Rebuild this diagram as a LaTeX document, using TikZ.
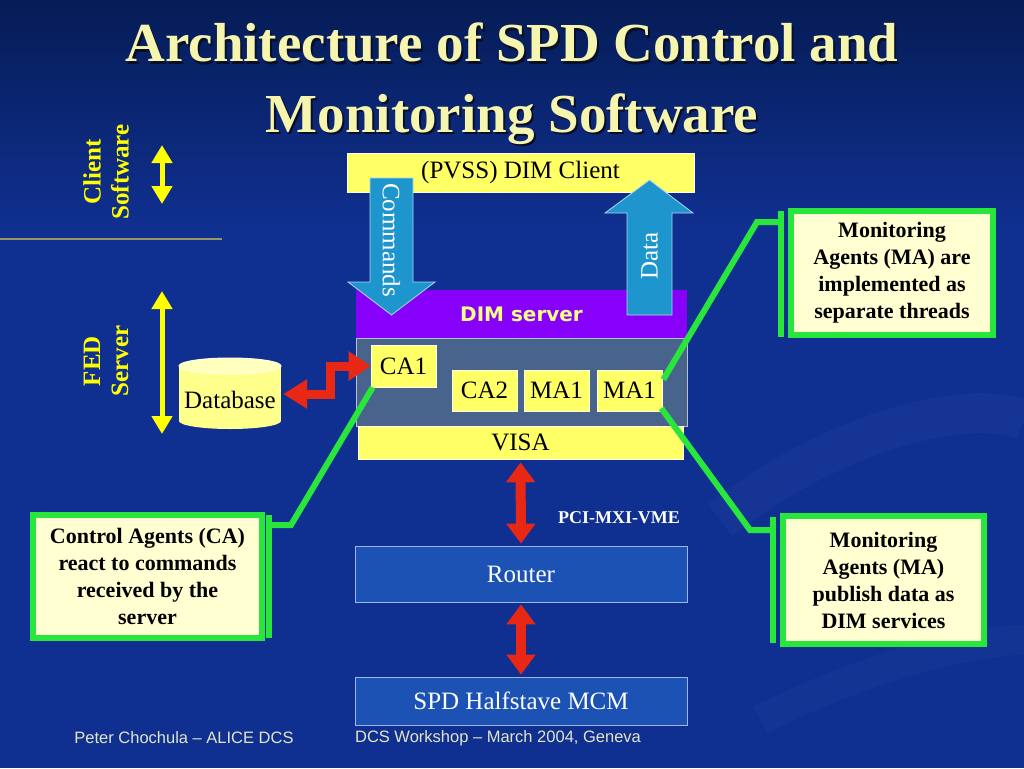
\documentclass[tikz,border=0pt]{standalone}
\usepackage{fontspec}
\setmainfont{Liberation Serif}
\newfontfamily\dimfont{DejaVu Sans}
\newfontfamily\footfont[Ligatures=TeX]{Liberation Sans}
\usetikzlibrary{arrows.meta,calc}
\definecolor{bgblue}{RGB}{16,48,145}
\definecolor{bgtop}{RGB}{6,28,86}
\definecolor{boxyellow}{RGB}{255,255,102}
\definecolor{dbyellow}{RGB}{255,255,140}
\definecolor{dbtop}{RGB}{255,255,190}
\definecolor{notefill}{RGB}{255,255,210}
\definecolor{notegreen}{RGB}{40,230,60}
\definecolor{arrowblue}{RGB}{30,150,205}
\definecolor{arrowrim}{RGB}{170,215,240}
\definecolor{dimpurple}{RGB}{135,0,250}
\definecolor{slate}{RGB}{72,100,140}
\definecolor{routerblue}{RGB}{28,82,180}
\definecolor{routerrim}{RGB}{160,180,230}
\definecolor{linkred}{RGB}{232,40,20}
\definecolor{titleyellow}{RGB}{245,245,175}
\definecolor{titleshade}{RGB}{10,15,40}
\definecolor{labelyellow}{RGB}{255,255,0}
\definecolor{rulecolor}{RGB}{150,150,100}
\definecolor{foottext}{RGB}{225,230,200}
\begin{document}
\begin{tikzpicture}[x=1pt,y=-1pt,
  ybox/.style={fill=boxyellow,draw=white!85!boxyellow,line width=0.6pt,inner sep=0pt,text=black,font=\fontsize{25}{28}\selectfont},
  bluebox/.style={fill=routerblue,draw=routerrim,line width=0.8pt,inner sep=0pt,text=white,font=\fontsize{25}{28}\selectfont},
  note/.style={fill=notefill,draw=notegreen,line width=6pt,inner sep=0pt,align=center,text=black,font=\fontsize{22}{27}\selectfont\bfseries},
  notebar/.style={draw=notegreen,line width=6pt},
  noteline/.style={draw=notegreen,line width=6pt,line join=miter},
  blockarrow/.style={fill=arrowblue,draw=arrowrim,line width=0.8pt},
  yarrow/.style={draw=labelyellow,line width=5pt,{Triangle[width=20pt,length=18pt]}-{Triangle[width=20pt,length=18pt]}},
  rarrow/.style={draw=linkred,line width=10pt,{Triangle[width=28pt,length=20pt]}-{Triangle[width=28pt,length=20pt]}},
  sidelabel/.style={rotate=90,align=center,text=labelyellow,font=\fontsize{25}{28}\selectfont\bfseries},
  titletext/.style={anchor=base,inner sep=0pt,font=\fontsize{55}{66}\selectfont\bfseries}
]
% background
\useasboundingbox (0,0) rectangle (1024,768);
\fill[bgblue] (0,0) rectangle (1024,768);
\shade[top color=bgtop,bottom color=bgblue] (0,0) rectangle (1024,230);
\draw[white,opacity=0.025,line width=40pt] (720,520) .. controls (850,420) and (980,400) .. (1024,420);
\draw[white,opacity=0.02,line width=30pt] (760,720) .. controls (880,660) and (980,640) .. (1024,640);

% title
\node[titletext,text=titleshade] (t1s) at (514,64) {Architecture of SPD Control and};
\node[titletext,text=titleshade] (t2s) at (514,134) {Monitoring Software};
\node[titletext,text=titleyellow] (t1) at (512,62) {Architecture of SPD Control and};
\node[titletext,text=titleyellow] (t2) at (512,132) {Monitoring Software};

% side labels
\node[sidelabel] (clientlbl) at (106,172) {Client\\Software};
\node[sidelabel] (fedlbl) at (106,361) {FED\\Server};
\coordinate (ya1) at (162,145);
\coordinate (ya2) at (162,204);
\coordinate (yb1) at (162,291);
\coordinate (yb2) at (162,434);
\draw[yarrow] (ya1) -- (ya2);
\draw[yarrow] (yb1) -- (yb2);
\coordinate (rule1) at (0,239);
\coordinate (rule2) at (222,239);
\draw[rulecolor,line width=1.2pt] (rule1) -- (rule2);

% main stack
\node[ybox,minimum width=347pt,minimum height=39pt] (client) at (520.5,172.5) {(PVSS) DIM Client};
\node[fill=dimpurple,inner sep=0pt,minimum width=331pt,minimum height=48pt,text=boxyellow!80!white,font=\dimfont\bfseries\fontsize{20}{24}\selectfont] (dimserver) at (521.5,314) {DIM server};
\node[fill=slate,draw=white!60!slate,line width=0.6pt,minimum width=331pt,minimum height=88pt] (agents) at (521.5,382) {};
\node[ybox,minimum width=65pt,minimum height=42pt] (ca1) at (403.5,366) {CA1};
\node[ybox,minimum width=65pt,minimum height=41pt] (ca2) at (484.5,390.5) {CA2};
\node[ybox,minimum width=65pt,minimum height=41pt] (maa) at (556.5,390.5) {MA1};
\node[ybox,minimum width=65pt,minimum height=41pt] (mab) at (629.5,390.5) {MA1};
\node[ybox,minimum width=325pt,minimum height=33pt] (visa) at (520.5,442.5) {VISA};

% block arrows
\draw[blockarrow] (370,178) -- (413,178) -- (413,282) -- (435,282) -- (391.5,315) -- (348,282) -- (370,282) -- cycle;
\node[rotate=-90,text=white,font=\fontsize{25}{28}\selectfont] (cmdlbl) at (391.5,240) {Commands};
\draw[blockarrow] (627,315) -- (627,213) -- (605,213) -- (649.5,180) -- (693,213) -- (672,213) -- (672,315) -- cycle;
\node[rotate=90,text=white,font=\fontsize{25}{28}\selectfont] (datalbl) at (649.5,256) {Data};

% lower boxes
\node[bluebox,minimum width=332pt,minimum height=56pt] (router) at (521,574) {Router};
\node[bluebox,minimum width=332pt,minimum height=48pt] (mcm) at (521,701) {SPD Halfstave MCM};
\draw[rarrow] ($(visa.south)+(0,3)$) -- ($(router.north)+(0,-2)$);
\draw[rarrow] ($(router.south)+(0,2)$) -- ($(mcm.north)+(0,-2)$);
\node[text=white,font=\fontsize{18}{20}\selectfont\bfseries] (pci) at (619,518) {PCI-MXI-VME};

% database
\fill[dbyellow] (179,366) rectangle (281,421);
\fill[dbyellow] (230,421) ellipse (51pt and 8pt);
\fill[dbtop,draw=white!70!dbyellow,line width=1pt] (230,366) ellipse (51pt and 8pt);
\node[inner sep=0pt,minimum width=104pt,minimum height=70pt] (db) at (230,393) {};
\node[text=black,font=\fontsize{25}{28}\selectfont] (dblbl) at (230,400) {Database};
\coordinate (z1) at (330,394);
\coordinate (z2) at (330,366);
\draw[draw=linkred,line width=9pt,line join=miter,{Triangle[width=28pt,length=24pt]}-{Triangle[width=28pt,length=22pt]}] ($(db.east)+(1,1)$) -- (z1) -- (z2) -- (ca1.west);

% callouts
\node[note,minimum width=202pt,minimum height=124pt] (notema1) at (892,273) {Monitoring\\Agents (MA) are\\implemented as\\separate threads};
\draw[notebar] (781,211) -- (781,337);
\coordinate (k1) at (757,222);
\draw[noteline] ($(mab.east)+(1,-11)$) -- (k1) -- (781,222);

\node[note,minimum width=201pt,minimum height=128pt] (notema2) at (883.5,580) {Monitoring\\Agents (MA)\\publish data as\\DIM services};
\draw[notebar] (773,517) -- (773,643);
\coordinate (k2) at (750,530);
\draw[noteline] ($(mab.south east)+(-1,-3)$) -- (k2) -- (773,530);

\node[note,minimum width=229pt,minimum height=123pt] (noteca) at (147.5,576) {Control Agents (CA)\\react to commands\\received by the\\server};
\draw[notebar] (269,515) -- (269,638);
\coordinate (k3) at (291,525);
\draw[noteline] ($(ca1.south west)+(2,0)$) -- (k3) -- (269,525);

% footer
\node[text=foottext,font=\footfont\fontsize{16.5}{18}\selectfont] (foot1) at (184,738) {Peter Chochula – ALICE DCS};
\node[text=foottext,font=\footfont\fontsize{16.5}{18}\selectfont] (foot2) at (498,738) {DCS Workshop – March 2004, Geneva};
\end{tikzpicture}
\end{document}
